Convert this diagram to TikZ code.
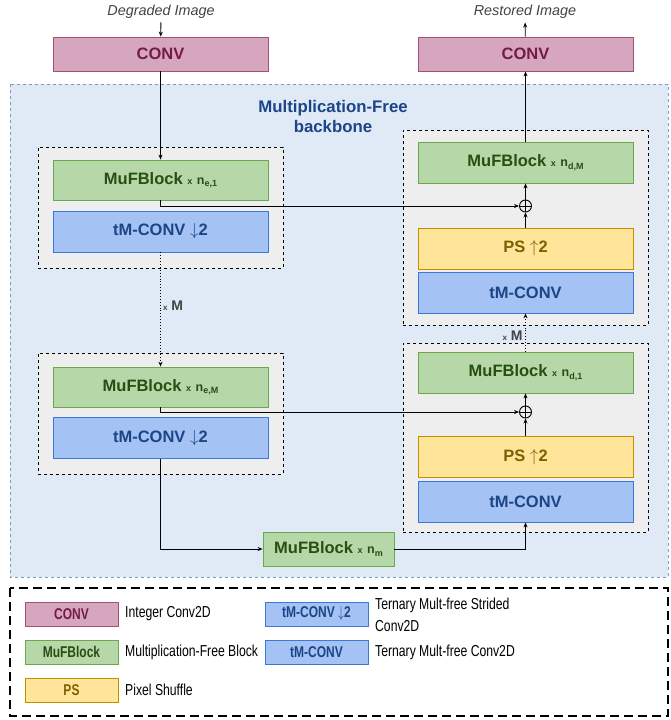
\documentclass[tikz,border=0pt]{standalone}
\usepackage{fontspec}
\setmainfont{Liberation Sans}
\usetikzlibrary{arrows.meta}

\definecolor{convfill}{HTML}{D5A6BD}
\definecolor{convline}{HTML}{A64D79}
\definecolor{convtext}{HTML}{741B47}
\definecolor{muffill}{HTML}{B6D7A8}
\definecolor{mufline}{HTML}{6AA84F}
\definecolor{muftext}{HTML}{274E13}
\definecolor{tmfill}{HTML}{A4C2F4}
\definecolor{tmline}{HTML}{3C78D8}
\definecolor{tmtext}{HTML}{1C4587}
\definecolor{psfill}{HTML}{FFE599}
\definecolor{psline}{HTML}{BF9000}
\definecolor{pstext}{HTML}{7F6000}
\definecolor{bbfill}{HTML}{DFEAF6}
\definecolor{bbline}{HTML}{7A9CC6}
\definecolor{grpfill}{HTML}{EEEEEE}
\definecolor{labgray}{HTML}{434343}

\newcommand{\rep}[1]{{\fontsize{9}{9}\selectfont x} {\fontsize{12.5}{12.5}\selectfont n\raisebox{-2.5pt}{\fontsize{9}{9}\selectfont #1}}}
\newcommand{\tall}[1]{\scalebox{1}[1.3]{#1}}

\tikzset{
	blk/.style={draw, line width=0.8pt, minimum width=215pt, minimum height=40pt, inner sep=0pt, font=\bfseries\fontsize{16.5}{18}\selectfont},
	convblk/.style={blk, draw=convline, fill=convfill, text=convtext, minimum height=34pt},
	mufblk/.style={blk, draw=mufline, fill=muffill, text=muftext},
	tmblk/.style={blk, draw=tmline, fill=tmfill, text=tmtext},
	psblk/.style={blk, draw=psline, fill=psfill, text=pstext},
	grp/.style={draw, dashed, fill=grpfill, minimum width=245pt, inner sep=0pt},
	addnode/.style={circle, draw, fill=grpfill, inner sep=0pt, minimum size=12pt, path picture={\draw (path picture bounding box.north) -- (path picture bounding box.south) (path picture bounding box.west) -- (path picture bounding box.east);}},
	legblk/.style={minimum width=93pt, minimum height=24pt, font=\bfseries\fontsize{12}{14}\selectfont},
	legtext/.style={anchor=west, font=\fontsize{12.2}{17}\selectfont},
	repnode/.style={text=labgray, font=\bfseries\fontsize{14}{16}\selectfont, inner sep=1pt},
	imgtext/.style={text=labgray, font=\itshape\fontsize{14.4}{16}\selectfont}
}

\begin{document}
\begin{tikzpicture}[x=1pt, y=-1pt, >={Stealth[length=5pt,width=4pt]}, line width=0.9pt]

	\useasboundingbox (0,0) rectangle (670,720);

	% backbone area
	\draw [bbline, dashed, fill=bbfill, line width=0.8pt] (10,84) rectangle (668,577);
	\node [text=tmtext, font=\bfseries\fontsize{16.8}{20}\selectfont, align=center] (title) at (333,116) {Multiplication-Free\\backbone};

	% groups
	\node [grp, minimum height=121pt] (enc1) at (160.5,207.5) {};
	\node [grp, minimum height=121pt] (encM) at (160.5,413.5) {};
	\node [grp, minimum height=195pt] (decM) at (525.5,227.5) {};
	\node [grp, minimum height=189pt] (dec1) at (525.5,437.5) {};

	% input and output
	\node [imgtext] (inimg) at (161,12) {Degraded Image};
	\node [imgtext] (outimg) at (525,12) {Restored Image};
	\node [convblk] (convl) at (160.5,54) {CONV};
	\node [convblk] (convr) at (525.5,54) {CONV};

	% encoder
	\node [mufblk] (mufe1) at (160.5,180) {MuFBlock \rep{e,1}};
	\node [tmblk, minimum height=41pt] (tmce1) at (160.5,231.5) {tM-CONV $\downarrow$2};
	\node [mufblk] (mufeM) at (160.5,387) {MuFBlock \rep{e,M}};
	\node [tmblk, minimum height=41pt] (tmceM) at (160.5,438) {tM-CONV $\downarrow$2};

	% middle
	\node [mufblk, minimum width=131pt, minimum height=34pt] (mufm) at (328.5,549) {MuFBlock \rep{m}};

	% decoder
	\node [mufblk, minimum height=41pt] (mufdM) at (525.5,162.5) {MuFBlock \rep{d,M}};
	\node [addnode] (adddM) at (525.5,206) {};
	\node [psblk, minimum height=41pt] (psdM) at (525.5,248.5) {PS $\uparrow$2};
	\node [tmblk, minimum height=41pt] (tmcdM) at (525.5,292.5) {tM-CONV};
	\node [mufblk, minimum height=41pt] (mufd1) at (525.5,372.5) {MuFBlock \rep{d,1}};
	\node [addnode] (addd1) at (525.5,412) {};
	\node [psblk, minimum height=41pt] (psd1) at (525.5,457) {PS $\uparrow$2};
	\node [tmblk, minimum height=41pt] (tmcd1) at (525.5,501.5) {tM-CONV};

	\node [repnode] (repe) at (173,306) {{\fontsize{8}{8}\selectfont x} M};
	\node [repnode, anchor=east] (repd) at (524,336) {{\fontsize{8}{8}\selectfont x} M};

	% connectors
	\draw [->] (inimg) -- (convl);
	\draw [->] (convl) -- (mufe1);
	\draw [->, dotted] (tmce1) -- (mufeM);
	\draw [->] (mufe1.south) |- (adddM);
	\draw [->] (mufeM.south) |- (addd1);
	\draw [->] (tmceM.south) |- (mufm.west);
	\draw [->] (mufm.east) -| (tmcd1.south);
	\draw [->] (psd1) -- (addd1);
	\draw [->] (addd1) -- (mufd1);
	\draw [->, dotted] (mufd1) -- (tmcdM);
	\draw [->] (psdM) -- (adddM);
	\draw [->] (adddM) -- (mufdM);
	\draw [->] (mufdM) -- (convr);
	\draw [->] (convr) -- (outimg);

	% legend
	\draw [dash pattern=on 9pt off 5pt, line width=1.2pt] (10,588) rectangle (668,716);
	\node [convblk, legblk] (legconv) at (71.5,614) {\tall{CONV}};
	\node [legtext] at (legconv.east) [xshift=3pt] {\tall{Integer Conv2D}};
	\node [mufblk, legblk] (legmuf) at (71.5,652) {\tall{MuFBlock}};
	\node [legtext] at (legmuf.east) [xshift=3pt] {\tall{Multiplication-Free Block}};
	\node [psblk, legblk] (legps) at (71.5,690) {\tall{PS}};
	\node [legtext] at (legps.east) [xshift=3pt] {\tall{Pixel Shuffle}};
	\node [tmblk, legblk, minimum width=103pt] (legtmd) at (316.5,614) {\tall{tM-CONV $\downarrow$2}};
	\node [legtext] at (legtmd.east) [xshift=3pt, yshift=-2pt] {\tall{\begin{tabular}{@{}l@{}}Ternary Mult-free Strided\\Conv2D\end{tabular}}};
	\node [tmblk, legblk, minimum width=103pt] (legtm) at (316.5,652) {\tall{tM-CONV}};
	\node [legtext] at (legtm.east) [xshift=3pt] {\tall{Ternary Mult-free Conv2D}};

\end{tikzpicture}
\end{document}
